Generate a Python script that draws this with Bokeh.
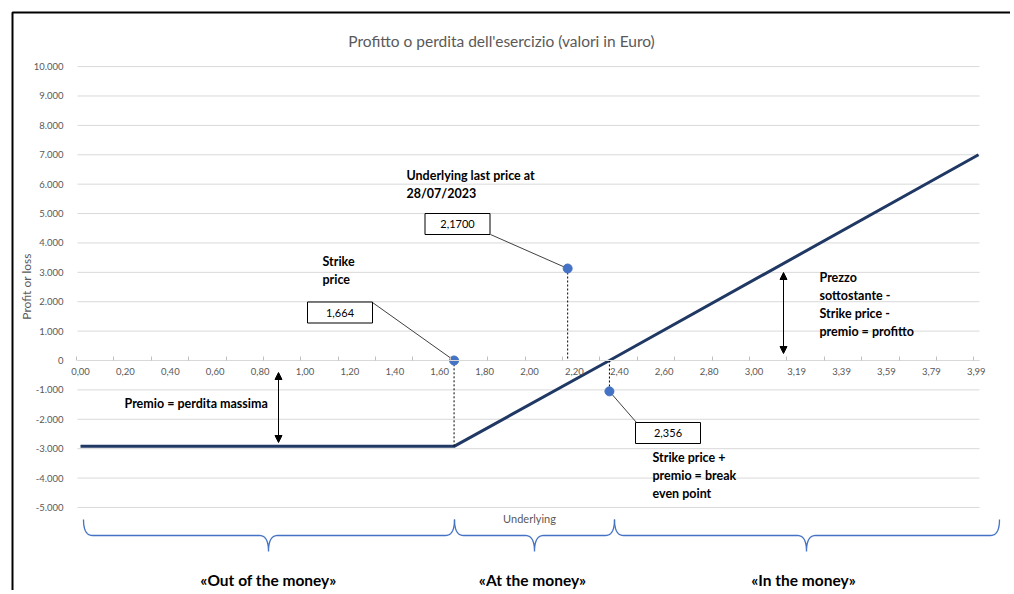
import numpy as np
from bokeh.plotting import figure
from bokeh.models import LinearAxis, FixedTicker, Range1d, Arrow, NormalHead
from bokeh.core.properties import value
from bokeh.embed import file_html
from bokeh.resources import INLINE

# ---------------- data ----------------
underlying = [0.0, 1.664, 2.356, 4.0]
profit = [-2920, -2920, 0, 7000]

strike = 1.664
last_price = 2.17
last_price_y = 3130
breakeven = 2.356
breakeven_y = -1050
max_loss = -2920

x_tick_values = [0.0, 0.2, 0.4, 0.6, 0.8, 1.0, 1.2, 1.4, 1.6, 1.8, 2.0, 2.2, 2.4,
                 2.6, 2.8, 3.0, 3.19, 3.39, 3.59, 3.79, 3.99]
x_tick_labels = ["0,00", "0,20", "0,40", "0,60", "0,80", "1,00", "1,20", "1,40",
                 "1,60", "1,80", "2,00", "2,20", "2,40", "2,60", "2,80", "3,00",
                 "3,19", "3,39", "3,59", "3,79", "3,99"]
y_tick_values = list(range(-5000, 10001, 1000))
y_tick_labels = [f"{v:,}".replace(",", ".") for v in y_tick_values]

box_labels = ["1,664", "2,1700", "2,356"]
title_text = "Profitto o perdita dell'esercizio (valori in Euro)"

# ---------------- layout helpers (page pixels -> data) ----------------
X0, SX = 80.0, 224.5
Y0, SY = 360.0, 0.02939


def X(px):
    return (px - X0) / SX


def Y(py):
    return (Y0 - py) / SY


W, H = 1010, 590
FONT_NAME = "Lato"
FONT = value(FONT_NAME)
GRAY = "#595959"

p = figure(width=W, height=H,
           x_range=Range1d(X(0), X(W)), y_range=Range1d(Y(H), Y(0)),
           x_axis_type=None, y_axis_type=None,
           output_backend="svg", toolbar_location=None, min_border=0)
p.outline_line_color = None
p.background_fill_color = "white"
p.border_fill_color = "white"

# gridlines
p.segment(x0=X(77), y0=y_tick_values, x1=X(979), y1=y_tick_values,
          line_color="#D9D9D9", line_width=1)

# y axis
yaxis = LinearAxis(fixed_location=X(74), ticker=FixedTicker(ticks=y_tick_values),
                   major_label_overrides=dict(zip(y_tick_values, y_tick_labels)),
                   axis_line_color=None, major_tick_line_color=None,
                   minor_tick_line_color=None, major_label_standoff=5,
                   major_label_text_font=FONT_NAME, major_label_text_font_size="9.5px",
                   major_label_text_color=GRAY)
p.add_layout(yaxis, "left")

# x axis (labels)
xaxis = LinearAxis(fixed_location=0, ticker=FixedTicker(ticks=x_tick_values),
                   major_label_overrides=dict(zip(x_tick_values, x_tick_labels)),
                   axis_line_color="#D9D9D9", bounds=(X(77), X(979)),
                   major_tick_line_color=None, minor_tick_line_color=None,
                   major_tick_in=0, major_tick_out=0, major_label_standoff=7,
                   major_label_text_font=FONT_NAME, major_label_text_font_size="9.5px",
                   major_label_text_color=GRAY)
p.add_layout(xaxis, "below")

# x axis tick marks (category boundaries)
tick_marks = list(np.linspace(X(76), X(973.3), 25))
taxis = LinearAxis(fixed_location=0, ticker=FixedTicker(ticks=tick_marks),
                   axis_line_color=None, major_tick_in=4, major_tick_out=0,
                   major_tick_line_color="#BFBFBF", minor_tick_line_color=None,
                   major_label_text_color=None)
p.add_layout(taxis, "below")

# frame border
p.line([X(12), X(12), X(W)], [Y(H), Y(12), Y(12)], line_color="black", line_width=2)

# payoff line
p.line(underlying, profit, line_color="#203864", line_width=3)

# dotted verticals
p.segment(x0=[strike, last_price, breakeven], y0=[max_loss, last_price_y, 0],
          x1=[strike, last_price, breakeven], y1=[0, 0, breakeven_y],
          line_color="black", line_width=1, line_dash="2 2")

# leader lines
p.segment(x0=[X(372), X(490), X(636)], y0=[Y(302), Y(234), Y(422)],
          x1=[strike, last_price, breakeven], y1=[0, last_price_y, breakeven_y],
          line_color="#404040", line_width=1)

# points
p.scatter([strike, last_price, breakeven], [0, last_price_y, breakeven_y],
          size=9, fill_color="#4472C4", line_color="#4472C4")

# label boxes
bx = [X(339.5), X(457), X(667.5)]
by = [Y(312), Y(223.5), Y(432.5)]
p.rect(x=bx, y=by, width=65, height=21, width_units="screen", height_units="screen",
       fill_color="white", line_color="black", line_width=1)
p.text(x=bx, y=by, text=box_labels, text_align="center", text_baseline="middle",
       text_font=FONT, text_font_size="11px", text_color="black")

# bold annotation texts
ann_text = ["Strike\nprice",
            "Underlying last price at\n28/07/2023",
            "Prezzo\nsottostante -\nStrike price -\npremio = profitto",
            "Premio = perdita massima",
            "Strike price +\npremio = break\neven point"]
ann_x = [X(322), X(406), X(819), X(124), X(652)]
ann_y = [Y(253), Y(167), Y(269), Y(395), Y(449)]
p.text(x=ann_x, y=ann_y, text=ann_text, text_align="left", text_baseline="top",
       text_font=FONT, text_font_style="bold", text_font_size="12.5px",
       text_color="black", text_line_height=1.22)

# double arrows
for ax, ay0, ay1 in [(278, 372, 442), (783, 272, 353)]:
    p.add_layout(Arrow(start=NormalHead(size=7, fill_color="black", line_color="black"),
                       end=NormalHead(size=7, fill_color="black", line_color="black"),
                       x_start=X(ax), y_start=Y(ay0), x_end=X(ax), y_end=Y(ay1),
                       line_color="black", line_width=1))


# braces
def brace(xa, xm, xb, top=519.0, mid=535.0, tip=551.0, r=9.0):
    t = np.linspace(0, 1, 12)

    def quad(p0, c, p1):
        return ((1 - t) ** 2 * p0[0] + 2 * (1 - t) * t * c[0] + t ** 2 * p1[0],
                (1 - t) ** 2 * p0[1] + 2 * (1 - t) * t * c[1] + t ** 2 * p1[1])
    segs = [quad((xa, top), (xa, mid), (xa + r, mid)),
            quad((xm - r, mid), (xm, mid), (xm, tip)),
            quad((xm, tip), (xm, mid), (xm + r, mid)),
            quad((xb - r, mid), (xb, mid), (xb, top))]
    xs = np.concatenate([s[0] for s in segs])
    ys = np.concatenate([s[1] for s in segs])
    return [X(v) for v in xs], [Y(v) for v in ys]


bxs, bys = [], []
for a, m, b in [(83, 268, 454), (454, 534, 614), (614, 806, 999)]:
    xs_, ys_ = brace(a, m, b)
    bxs.append(xs_)
    bys.append(ys_)
p.multi_line(bxs, bys, line_color="#4472C4", line_width=1.3)

# axis titles
p.text(x=[X(529)], y=[Y(518)], text=["Underlying"], text_align="center",
       text_baseline="middle", text_font=FONT, text_font_size="11px", text_color=GRAY)
p.text(x=[X(26)], y=[Y(286)], text=["Profit or loss"], angle=np.pi / 2,
       text_align="center", text_baseline="middle", text_font=FONT,
       text_font_size="12px", text_color=GRAY)

# chart title
p.text(x=[X(501)], y=[Y(40)], text=[title_text], text_align="center",
       text_baseline="middle", text_font=FONT, text_font_size="15.5px", text_color=GRAY)

# money zones
p.text(x=[X(268), X(532), X(803)], y=[Y(588)] * 3,
       text=["«Out of the money»", "«At the money»", "«In the money»"],
       text_align="center", text_baseline="bottom", text_font=FONT,
       text_font_style="bold", text_font_size="15.5px", text_color="black")

open("out.html", "w").write(file_html(p, INLINE))
